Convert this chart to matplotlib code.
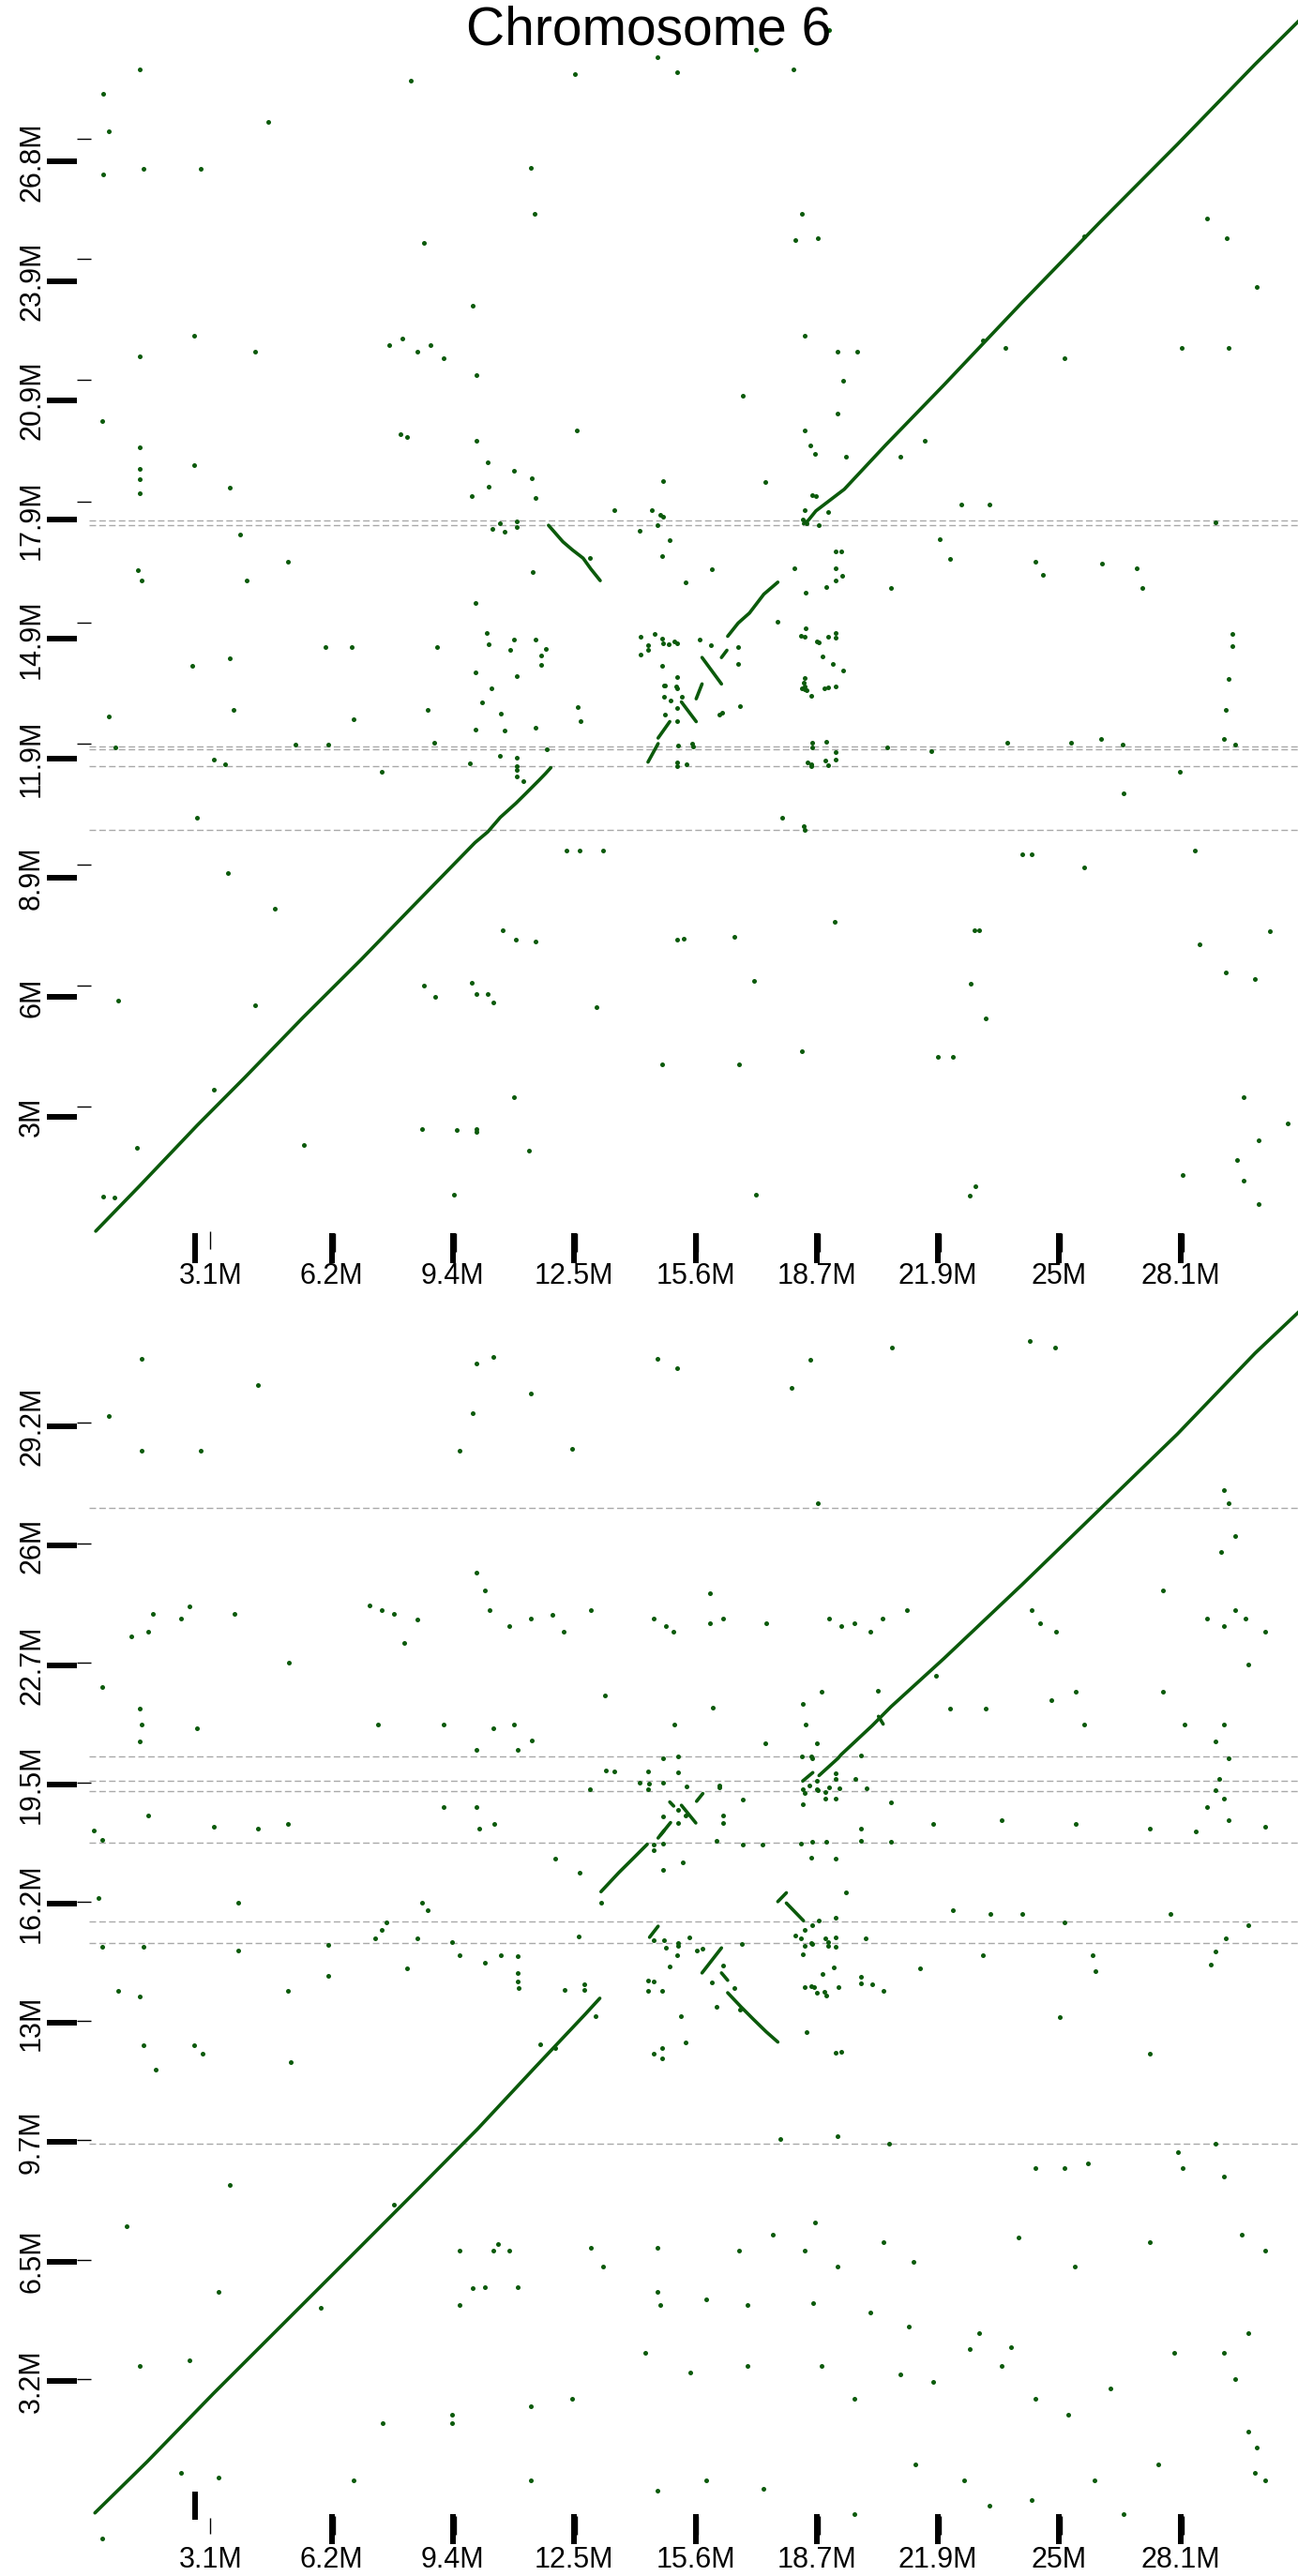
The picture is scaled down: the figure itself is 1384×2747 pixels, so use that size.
import matplotlib
matplotlib.use("Agg")
import matplotlib.pyplot as plt
from matplotlib.lines import Line2D

plt.rcParams['font.family'] = ['Liberation Sans', 'DejaVu Sans']

GREEN = '#0b5a0b'
GRID = '#a9a9a9'

# shared x axis (query position, Mb)
x_max = 31.2
x_tick_vals = [3.12, 6.24, 9.36, 12.48, 15.6, 18.72, 21.84, 24.96, 28.08]
x_tick_labels = ['3.1M', '6.2M', '9.4M', '12.5M', '15.6M', '18.7M', '21.9M', '25M', '28.1M']
x_thick_vals = [2.72, 6.24, 9.36, 12.48, 15.6, 18.72, 21.84, 24.96, 28.08]

# ---- top panel ----
top_ymax = 29.8
top_y_ticks = [2.98, 5.96, 8.94, 11.92, 14.9, 17.88, 20.86, 23.84, 26.82]
top_y_labels = ['3M', '6M', '8.9M', '11.9M', '14.9M', '17.9M', '20.9M', '23.9M', '26.8M']
top_y_thin = [3.23, 6.25, 9.27, 12.29, 15.31, 18.32, 21.37, 24.39, 27.40]
top_breaks = [17.86, 17.74, 12.23, 12.15, 11.72, 10.13]

top_segments = [
    [(0.17, 0.12), (0.8, 0.75), (1.3, 1.25), (2.78, 2.76), (4.0, 3.95), (5.5, 5.45),
     (7.0, 6.9), (8.3, 8.2), (9.93, 9.82), (10.26, 10.09), (10.58, 10.45), (10.98, 10.80),
     (11.22, 11.03), (11.58, 11.38), (11.74, 11.54), (11.88, 11.69)],
    [(11.82, 17.74), (12.19, 17.33), (12.43, 17.13), (12.71, 16.92), (12.91, 16.65), (13.15, 16.36)],
    [(14.38, 11.83), (14.64, 12.29)],
    [(14.64, 12.43), (14.94, 12.84)],
    [(15.24, 13.33), (15.62, 12.84)],
    [(15.62, 13.41), (15.77, 13.78)],
    [(15.77, 14.44), (16.27, 13.78)],
    [(16.27, 14.44), (16.41, 14.62)],
    [(16.43, 14.97), (16.70, 15.30), (16.99, 15.55), (17.36, 16.02), (17.72, 16.32)],
    [(18.38, 17.78), (18.50, 17.86), (18.70, 18.10), (19.43, 18.64), (20.5, 19.75), (22.0, 21.25),
     (24.0, 23.3), (26.0, 25.3), (28.0, 27.25), (30.0, 29.25), (31.3, 30.5)],
]

top_dots = [
    (0.37, 28.51), (1.30, 29.13), (0.50, 27.57), (0.37, 26.50), (1.39, 26.63), (2.87, 26.63),
    (4.60, 27.82), (8.28, 28.85), (12.50, 29.01), (11.36, 26.67), (14.62, 29.42), (15.12, 29.05),
    (17.15, 29.62), (18.12, 29.13), (19.05, 30.11), (11.45, 25.52), (18.34, 25.52), (18.17, 24.87),
    (18.76, 24.91), (8.61, 24.78), (28.77, 25.40), (29.28, 24.91), (30.04, 23.68), (25.61, 24.95),
    (9.88, 23.22), (2.70, 22.48), (4.26, 22.07), (1.30, 21.95), (7.73, 22.24), (8.06, 22.40),
    (8.45, 22.07), (8.78, 22.24), (9.12, 21.91), (18.42, 22.48), (19.26, 22.07), (19.77, 22.07),
    (22.99, 22.36), (23.58, 22.16), (25.10, 21.91), (28.10, 22.16), (29.32, 22.16), (9.97, 21.50),
    (16.81, 20.97), (19.39, 21.34), (0.33, 20.35), (8.02, 20.02), (8.19, 19.94), (9.97, 19.86),
    (10.26, 19.32), (12.55, 20.10), (19.26, 20.52), (18.42, 20.10), (18.55, 19.73), (1.30, 19.69),
    (1.30, 19.16), (1.30, 18.88), (1.30, 18.55), (2.70, 19.24), (3.63, 18.67), (18.67, 19.53),
    (19.48, 19.45), (20.87, 19.45), (21.50, 19.86), (22.44, 18.26), (23.16, 18.26), (28.98, 17.81),
    (3.88, 17.52), (1.26, 16.62), (1.34, 16.37), (4.05, 16.37), (5.11, 16.82), (21.89, 17.40),
    (22.14, 16.90), (24.34, 16.82), (24.55, 16.50), (26.07, 16.78), (26.96, 16.66), (27.09, 16.17),
    (20.62, 16.17), (29.41, 15.02), (29.41, 14.73), (29.32, 13.91), (29.24, 13.14), (6.08, 14.69),
    (6.75, 14.69), (8.95, 14.69), (2.65, 14.24), (3.63, 14.41), (3.71, 13.14), (6.80, 12.89),
    (8.70, 13.14), (0.50, 12.97), (0.67, 12.19), (3.20, 11.90), (3.50, 11.78), (5.32, 12.27),
    (6.16, 12.27), (7.52, 11.58), (8.87, 12.32), (20.53, 12.19), (21.67, 12.11), (23.62, 12.32),
    (25.27, 12.32), (26.03, 12.40), (26.58, 12.27), (29.20, 12.40), (29.49, 12.27), (26.62, 11.04),
    (28.06, 11.58), (2.78, 10.43), (12.29, 9.61), (12.63, 9.61), (13.22, 9.61), (24.00, 9.53),
    (24.25, 9.53), (25.61, 9.20), (28.44, 9.61), (3.58, 9.07), (4.77, 8.17), (10.64, 7.64),
    (10.98, 7.39), (11.49, 7.35), (15.12, 7.39), (15.29, 7.43), (16.60, 7.47), (19.18, 7.84),
    (22.77, 7.64), (22.90, 7.64), (28.56, 7.27), (29.24, 6.57), (30.38, 7.60), (0.75, 5.88),
    (4.26, 5.76), (8.61, 6.25), (9.84, 6.33), (9.97, 6.04), (10.26, 6.04), (10.39, 5.84),
    (8.91, 5.96), (13.05, 5.72), (17.11, 6.37), (22.69, 6.29), (30.00, 6.41), (23.07, 5.43),
    (18.34, 4.61), (21.84, 4.48), (22.23, 4.48), (14.74, 4.28), (16.73, 4.28), (10.94, 3.46),
    (8.57, 2.68), (9.46, 2.64), (9.97, 2.68), (9.97, 2.60), (5.53, 2.27), (11.32, 2.14),
    (29.71, 3.46), (30.85, 2.80), (30.09, 2.39), (29.54, 1.90), (29.71, 1.37), (28.14, 1.53),
    (17.15, 1.04), (9.38, 1.04), (22.81, 1.24), (22.65, 1.00), (30.09, 0.79), (3.20, 3.66),
    (0.36, 0.98), (0.65, 0.96), (1.23, 2.20),
    # middle block
    (14.20, 14.95), (14.37, 14.74), (14.37, 14.64), (14.20, 14.52), (14.54, 15.03), (14.74, 14.91),
    (14.76, 14.79), (14.91, 14.78), (15.06, 14.84), (15.12, 14.80), (15.70, 14.88), (16.01, 14.75),
    (16.69, 14.70), (16.69, 14.28), (14.74, 14.24), (15.14, 13.96), (14.78, 13.74), (14.82, 13.74),
    (15.10, 13.71), (15.14, 13.68), (14.80, 13.45), (14.96, 13.37), (15.24, 13.46), (15.12, 13.19),
    (14.82, 13.02), (15.14, 12.86), (16.74, 13.22), (16.22, 13.02), (16.29, 13.06), (15.16, 12.25),
    (15.52, 12.28), (15.54, 12.22), (15.14, 11.81), (15.14, 11.73), (15.36, 11.77), (18.32, 14.99),
    (18.42, 14.97), (18.43, 15.16), (18.73, 14.83), (18.77, 14.81), (19.02, 14.95), (19.20, 15.05),
    (19.21, 14.93), (18.86, 14.46), (19.14, 14.29), (19.39, 14.11), (18.42, 13.93), (18.38, 13.80),
    (18.42, 13.72), (18.40, 13.64), (18.34, 13.66), (18.46, 13.62), (18.58, 13.49), (18.92, 13.67),
    (19.01, 13.70), (19.20, 13.72), (18.60, 12.32), (18.60, 12.20), (18.97, 12.34), (19.20, 12.08),
    (18.48, 11.83), (18.57, 11.77), (18.58, 11.73), (18.93, 11.87), (19.01, 11.76), (19.21, 11.89),
    (17.82, 10.43), (18.38, 10.24), (18.40, 10.14), (9.85, 18.48), (10.27, 18.71), (10.92, 19.10),
    (11.40, 18.92), (11.48, 18.42), (14.76, 18.85), (17.40, 18.83), (18.60, 18.50), (18.70, 18.48),
    (13.51, 18.13), (14.49, 18.13), (14.70, 18.01), (14.76, 17.95), (14.62, 17.75), (14.16, 17.60),
    (14.94, 17.36), (14.74, 16.97), (16.02, 16.65), (15.34, 16.32), (18.14, 16.66), (18.44, 16.05),
    (18.97, 16.20), (19.20, 16.36), (19.20, 16.66), (19.37, 16.49), (19.21, 17.10), (19.35, 17.09),
    (17.71, 15.34), (18.40, 18.13), (18.36, 17.89), (18.46, 17.80), (18.77, 17.75), (19.01, 18.07),
    (10.58, 17.79), (10.38, 17.66), (10.70, 17.58), (11.00, 17.83), (11.00, 17.70), (11.41, 16.58),
    (9.93, 15.80), (10.23, 15.05), (10.28, 14.78), (10.92, 14.89), (11.48, 14.89), (10.83, 14.63),
    (11.76, 14.66), (11.64, 14.50), (11.64, 14.25), (9.93, 14.07), (11.00, 13.98), (10.36, 13.67),
    (10.11, 13.33), (10.60, 13.04), (10.68, 12.61), (11.48, 12.68), (9.93, 12.65), (12.58, 13.20),
    (12.64, 12.86), (10.58, 11.98), (11.00, 11.93), (11.00, 11.73), (11.00, 11.63), (11.00, 11.46),
    (11.18, 11.36), (11.77, 12.14), (9.80, 11.80), (12.89, 16.92),
]

# ---- bottom panel ----
bot_ymax = 32.45
bot_y_ticks = [3.245, 6.49, 9.735, 12.98, 16.225, 19.47, 22.715, 25.96, 29.205]
bot_y_labels = ['3.2M', '6.5M', '9.7M', '13M', '16.2M', '19.5M', '22.7M', '26M', '29.2M']
bot_y_thin = [3.30, 6.54, 9.79, 13.03, 16.28, 19.52, 22.77, 26.01, 29.30]
bot_breaks = [26.99, 20.23, 19.57, 19.29, 17.88, 15.74, 15.15, 9.69]

bot_segments = [
    [(0.15, -0.35), (1.5, 1.05), (3.2, 2.9), (5.0, 4.8), (6.8, 6.7), (8.5, 8.5), (10.0, 10.1),
     (11.5, 11.8), (12.75, 13.2), (13.14, 13.65)],
    [(13.17, 16.55), (13.63, 17.07), (14.04, 17.50), (14.36, 17.84)],
    [(14.64, 18.01), (14.96, 18.43)],
    [(14.70, 18.09), (14.80, 18.22)],
    [(15.63, 19.01), (15.79, 19.22)],
    [(14.94, 18.99), (15.04, 18.88)],
    [(15.24, 18.90), (15.61, 18.42)],
    [(18.36, 19.56), (18.62, 19.79)],
    [(18.78, 19.71), (19.27, 20.18), (19.35, 20.28), (20.15, 21.07), (20.63, 21.58), (22.0, 22.9),
     (24.0, 24.9), (26.0, 26.95), (28.0, 29.0), (30.0, 31.2), (31.3, 32.5)],
    [(20.31, 21.32), (20.43, 21.11)],
    [(17.72, 16.28), (17.94, 16.52)],
    [(17.94, 16.24), (18.38, 15.76)],
    [(14.42, 15.31), (14.64, 15.61)],
    [(15.77, 14.34), (16.27, 15.02)],
    [(16.27, 14.34), (16.43, 14.14)],
    [(16.43, 13.80), (16.77, 13.42), (17.09, 13.08), (17.42, 12.74), (17.72, 12.46)],
]

bot_dots = [
    # middle block
    (13.27, 21.90), (16.05, 21.56), (15.06, 21.10), (18.84, 22.00), (20.29, 22.02), (18.36, 21.66),
    (18.44, 21.11), (17.39, 20.58), (18.72, 20.58), (11.40, 20.67), (11.02, 20.41), (14.76, 20.18),
    (15.15, 20.22), (18.34, 20.22), (18.58, 20.24), (18.61, 20.18), (19.85, 20.26), (13.30, 19.85),
    (13.52, 19.82), (14.38, 19.81), (15.15, 19.79), (12.88, 19.35), (14.17, 19.51), (14.40, 19.48),
    (14.37, 19.35), (14.76, 19.52), (15.36, 19.41), (16.21, 19.44), (16.22, 19.39), (19.71, 19.62),
    (19.21, 19.77), (19.21, 19.62), (18.72, 19.56), (18.76, 19.31), (18.52, 19.43), (18.36, 19.33),
    (18.42, 19.24), (18.72, 19.33), (18.93, 19.26), (19.04, 19.39), (19.31, 19.37), (18.93, 19.09),
    (19.21, 19.09), (20.01, 19.37), (18.36, 18.94), (16.82, 19.05), (20.62, 18.99), (16.31, 18.63),
    (16.31, 18.42), (14.76, 18.59), (15.15, 18.77), (15.15, 18.43), (15.34, 18.63), (19.85, 18.26),
    (19.85, 17.94), (16.14, 17.94), (16.82, 17.84), (17.32, 17.82), (18.32, 17.86), (18.60, 17.90),
    (18.97, 17.92), (20.62, 17.90), (14.53, 17.82), (14.53, 17.69), (14.76, 17.86), (18.57, 17.48),
    (19.21, 17.46), (11.99, 17.44), (12.61, 17.07), (14.76, 17.14), (15.28, 17.35), (13.17, 16.24),
    (19.47, 16.54), (18.77, 15.76), (19.21, 15.84), (18.60, 15.63), (18.40, 15.50), (18.18, 15.36),
    (18.32, 15.27), (18.58, 15.16), (18.60, 15.13), (18.93, 15.29), (19.01, 15.19), (19.21, 15.31),
    (19.02, 15.07), (19.21, 15.05), (18.36, 14.86), (18.42, 15.07), (19.97, 15.29), (12.59, 15.33),
    (15.44, 15.31), (14.53, 15.22), (14.80, 15.24), (14.83, 15.03), (15.15, 15.16), (15.15, 15.07),
    (15.13, 14.81), (15.63, 14.95), (15.77, 15.01), (16.79, 15.13), (14.94, 14.52), (16.31, 14.54),
    (11.02, 14.79), (11.02, 14.33), (11.02, 14.10), (11.06, 13.94), (12.73, 14.03), (12.73, 13.89),
    (12.23, 13.88), (14.38, 14.14), (14.53, 14.10), (14.38, 13.84), (14.74, 13.86), (16.03, 14.07),
    (16.59, 13.93), (18.40, 13.95), (18.58, 13.97), (18.65, 13.95), (18.72, 13.80), (18.92, 13.83),
    (18.96, 13.73), (18.86, 14.31), (19.16, 14.50), (19.29, 13.95), (19.85, 14.24), (19.85, 14.05),
    (20.15, 14.04), (20.43, 13.86), (16.14, 13.42), (16.75, 13.35), (15.22, 13.16), (13.03, 13.16),
    (18.45, 12.72), (11.61, 12.41), (11.99, 12.29), (15.34, 12.46), (14.53, 12.14), (14.74, 12.29),
    (14.74, 12.01), (19.21, 12.16), (19.36, 12.20),
    # outer area
    (1.34, 31.05), (0.50, 29.49), (1.34, 28.55), (2.87, 28.55), (4.35, 30.34), (9.97, 30.92),
    (10.39, 31.10), (11.36, 30.11), (9.88, 29.58), (9.54, 28.55), (12.42, 28.59), (14.62, 31.05),
    (15.12, 30.78), (18.55, 31.01), (18.08, 30.25), (20.66, 31.36), (24.21, 31.54), (24.85, 31.36),
    (18.76, 27.12), (29.20, 27.48), (29.32, 27.12), (29.49, 26.23), (29.12, 25.78), (9.97, 25.24),
    (10.18, 24.75), (1.64, 24.12), (1.51, 23.63), (1.09, 23.50), (2.36, 23.99), (3.75, 24.12),
    (2.57, 24.30), (7.22, 24.35), (7.52, 24.21), (7.85, 24.12), (8.11, 23.32), (8.45, 23.95),
    (10.31, 24.21), (10.81, 23.77), (11.36, 23.99), (11.91, 24.08), (12.21, 23.63), (12.92, 24.21),
    (14.53, 23.99), (14.83, 23.77), (15.04, 23.63), (15.97, 24.66), (15.97, 23.86), (16.31, 23.99),
    (17.41, 23.86), (19.05, 23.99), (19.35, 23.77), (19.69, 23.86), (20.11, 23.63), (20.41, 23.99),
    (21.04, 24.21), (24.25, 24.21), (24.46, 23.86), (24.89, 23.63), (27.64, 24.75), (28.77, 23.99),
    (29.20, 23.77), (29.49, 24.21), (29.75, 23.99), (30.26, 23.63), (0.33, 22.11), (1.30, 21.53),
    (1.34, 21.09), (1.30, 20.64), (2.78, 21.00), (5.15, 22.78), (7.43, 21.09), (9.12, 21.09),
    (10.39, 21.00), (10.94, 21.09), (9.97, 20.42), (21.80, 22.43), (22.14, 21.53), (23.07, 21.53),
    (24.76, 21.76), (25.61, 21.09), (25.39, 21.98), (27.64, 21.98), (28.18, 21.09), (28.98, 20.64),
    (29.20, 21.09), (29.83, 22.74), (29.32, 20.19), (0.12, 18.22), (0.33, 17.96), (1.51, 18.63),
    (3.20, 18.31), (4.35, 18.27), (5.11, 18.40), (9.12, 18.85), (9.97, 18.85), (10.05, 18.27),
    (10.43, 18.40), (21.71, 18.40), (23.49, 18.49), (25.39, 18.40), (27.30, 18.27), (28.48, 18.18),
    (28.77, 18.85), (28.98, 19.30), (29.07, 19.61), (29.20, 19.07), (29.32, 18.49), (30.26, 18.31),
    (0.25, 16.39), (3.84, 16.26), (7.64, 15.72), (7.52, 15.50), (8.70, 16.04), (8.57, 16.26),
    (22.23, 16.04), (23.20, 15.95), (24.00, 15.95), (25.10, 15.72), (27.81, 15.95), (0.33, 15.05),
    (1.39, 15.05), (3.84, 14.96), (6.16, 15.10), (7.35, 15.28), (8.45, 15.28), (9.33, 15.19),
    (9.54, 14.83), (10.18, 14.61), (10.60, 14.83), (8.19, 14.47), (21.38, 14.47), (22.99, 14.83),
    (25.82, 14.83), (25.90, 14.38), (28.86, 14.56), (28.98, 14.92), (29.24, 15.28), (29.83, 15.63),
    (0.75, 13.85), (1.30, 13.71), (1.39, 12.37), (1.72, 11.70), (2.70, 12.37), (2.91, 12.15),
    (5.19, 11.92), (5.11, 13.85), (6.16, 14.25), (24.97, 13.13), (27.30, 12.15), (20.58, 9.69),
    (19.26, 9.91), (17.78, 9.82), (28.98, 9.69), (25.69, 9.15), (25.10, 9.02), (24.34, 9.02),
    (28.02, 9.47), (28.14, 9.02), (29.20, 8.80), (0.96, 7.45), (3.63, 8.57), (7.85, 8.04),
    (9.54, 6.78), (10.39, 6.78), (10.52, 6.96), (10.81, 6.78), (11.02, 5.80), (12.92, 6.87),
    (13.22, 6.34), (14.62, 6.87), (14.62, 5.67), (15.88, 5.45), (16.73, 6.78), (17.58, 7.23),
    (18.42, 6.78), (18.67, 7.54), (19.26, 6.34), (20.45, 7.01), (21.21, 6.47), (23.92, 7.14),
    (25.35, 6.34), (27.30, 7.01), (29.66, 7.23), (30.26, 6.78), (3.33, 5.67), (5.95, 5.22),
    (9.54, 5.31), (9.88, 5.76), (10.18, 5.80), (14.70, 5.31), (16.94, 5.31), (18.63, 5.36),
    (20.11, 5.09), (21.08, 4.73), (22.90, 4.55), (22.65, 4.10), (23.71, 4.15), (27.93, 4.01),
    (29.20, 4.01), (29.83, 4.55), (1.30, 3.66), (2.57, 3.79), (9.33, 2.32), (9.33, 2.09),
    (11.36, 2.54), (12.42, 2.76), (14.32, 4.01), (15.46, 3.48), (16.94, 3.66), (18.84, 3.66),
    (19.69, 2.76), (20.87, 3.43), (21.71, 3.21), (23.49, 3.66), (24.34, 2.76), (25.18, 2.32),
    (26.28, 3.03), (29.49, 3.30), (2.36, 0.75), (3.33, 0.62), (6.80, 0.53), (7.56, 2.09),
    (11.36, 0.53), (14.62, 0.26), (15.88, 0.53), (17.36, 0.31), (19.69, -0.37), (21.25, 0.98),
    (22.52, 0.53), (23.16, -0.15), (24.25, -0.01), (25.86, 0.53), (26.62, -0.37), (27.51, 0.98),
    (29.83, 1.87), (30.04, 1.42), (30.00, 0.75), (30.26, 0.53), (0.33, -1.04),
]

fig = plt.figure(figsize=(13.84, 27.47), dpi=100)
FW, FH = 1384, 2747


def make_axes(left_px, bottom_px, width_px, height_px):
    ax = fig.add_axes([left_px / FW, 1 - bottom_px / FH, width_px / FW, height_px / FH])
    ax.set_axis_off()
    return ax


def draw_panel(ax, ymax, segments, dots, breaks, yticks, ylabels, ythin,
               xthick_span, xthick_first_span, xthin_first_span, xthin_span, xlabel_off):
    ax.set_xlim(0, x_max)
    ax.set_ylim(0, ymax)
    ax_w = ax.bbox.width
    ax_h = ax.bbox.height

    for yb in breaks:
        ax.axhline(yb, color=GRID, lw=1.0, ls=(0, (5, 2.5)), zorder=1)

    for seg in segments:
        xs, ys = zip(*seg)
        ax.plot(xs, ys, color=GREEN, lw=2.6, solid_capstyle='round', clip_on=False, zorder=3)

    dx, dy = zip(*dots)
    ax.plot(dx, dy, 'o', color=GREEN, ms=3.6, mew=0, clip_on=False, zorder=3)

    # y ticks: heavy stub plus a fine stub next to the plot
    ytr = ax.get_yaxis_transform()
    for v, lab, vt in zip(yticks, ylabels, ythin):
        ax.add_line(Line2D([-45 / ax_w, -13 / ax_w], [v, v], transform=ytr, color='black',
                           lw=4.3, solid_capstyle='butt', clip_on=False))
        ax.add_line(Line2D([-13 / ax_w, 2 / ax_w], [vt, vt], transform=ytr, color='black',
                           lw=1.0, solid_capstyle='butt', clip_on=False))
        ax.text(-61 / ax_w, v, lab, transform=ytr, rotation=90, ha='center', va='center',
                fontsize=22, color='black', clip_on=False)

    # x ticks
    xtr = ax.get_xaxis_transform()
    for i, (v, vk, lab) in enumerate(zip(x_tick_vals, x_thick_vals, x_tick_labels)):
        span = xthick_first_span if i == 0 else xthick_span
        ax.add_line(Line2D([vk, vk], [span[0] / ax_h, span[1] / ax_h], transform=xtr,
                           color='black', lw=4.3, solid_capstyle='butt', clip_on=False))
        tspan = xthin_first_span if i == 0 else xthin_span
        vt = v if i == 0 else v + 0.07
        ax.add_line(Line2D([vt, vt], [tspan[0] / ax_h, tspan[1] / ax_h], transform=xtr,
                           color='black', lw=1.0, solid_capstyle='butt', clip_on=False))
        ax.text(v, xlabel_off / ax_h, lab, transform=xtr, ha='center', va='center',
                fontsize=22, color='black', clip_on=False)


ax_top = make_axes(95, 1318, 1293, 1273)
draw_panel(ax_top, top_ymax, top_segments, top_dots, top_breaks,
           top_y_ticks, top_y_labels, top_y_thin,
           xthick_span=(3, -29), xthick_first_span=(3, -29),
           xthin_first_span=(5, -14), xthin_span=(3, -17), xlabel_off=-43)

ax_bot = make_axes(95, 2666, 1293, 1272)
draw_panel(ax_bot, bot_ymax, bot_segments, bot_dots, bot_breaks,
           bot_y_ticks, bot_y_labels, bot_y_thin,
           xthick_span=(-15, -47), xthick_first_span=(9, -21),
           xthin_first_span=(-19, -36), xthin_span=(-17, -37), xlabel_off=-64)

fig.text(0.5, 1 - 47 / FH, 'Chromosome 6', ha='center', va='baseline', fontsize=41)

fig.savefig('out.png', dpi=100)
